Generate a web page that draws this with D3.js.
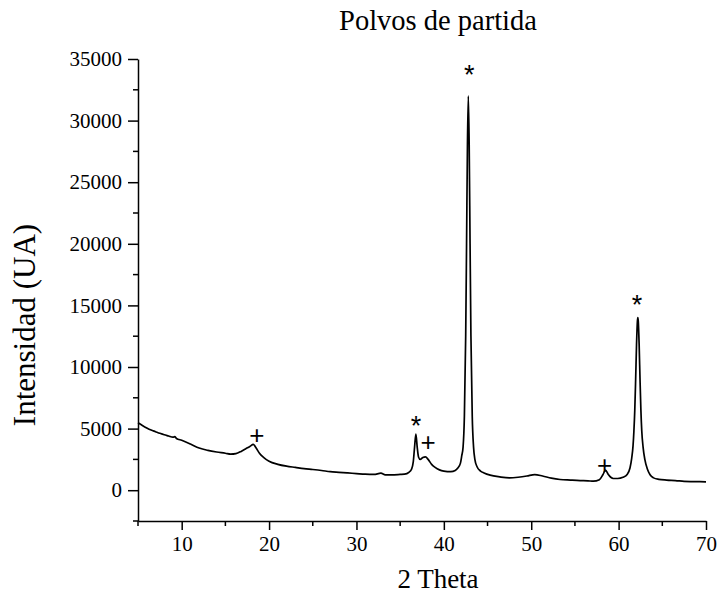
<!DOCTYPE html>
<html lang="en">
<head>
<meta charset="utf-8">
<title>Polvos de partida</title>
<script src="https://d3js.org/d3.v7.min.js"></script>
<style>
  body { margin: 0; background: #fff; }
</style>
</head>
<body>
<script>
    // values (2 theta, intensity)
    var theta = [5.0, 5.5, 6.0, 6.5, 7.0, 7.5, 8.0, 8.5, 9.0, 9.2, 9.4, 10.0, 11.0, 12.0, 13.0, 14.0, 15.0, 15.6, 16.2, 16.8, 17.3, 17.8, 18.2, 18.5, 18.9, 19.4, 20.0, 21.0, 22.0, 23.0, 24.0, 25.0, 26.0, 27.0, 28.0, 29.0, 30.0, 31.0, 32.0, 32.8, 33.3, 34.0, 35.0, 35.5, 36.0, 36.3, 36.5, 36.65, 36.8, 36.95, 37.1, 37.3, 37.6, 37.9, 38.2, 38.6, 39.0, 39.5, 40.0, 40.8, 41.3, 41.6, 41.9, 42.05, 42.2, 42.35, 42.5, 42.6, 42.7, 42.8, 42.9, 43.0, 43.1, 43.25, 43.4, 43.55, 43.8, 44.2, 44.6, 45.3, 46.4, 47.5, 48.5, 49.5, 50.4, 51.3, 52.3, 53.3, 54.5, 55.6, 56.5, 57.1, 57.8, 58.2, 58.5, 58.8, 59.1, 59.4, 59.9, 60.5, 61.0, 61.3, 61.5, 61.65, 61.75, 61.85, 61.95, 62.05, 62.15, 62.2, 62.25, 62.35, 62.45, 62.55, 62.65, 62.8, 63.0, 63.3, 63.6, 64.0, 64.6, 65.5, 66.5, 67.5, 68.5, 69.3, 70.0];
    var intensity = [5470, 5250, 5050, 4880, 4750, 4620, 4500, 4400, 4300, 4350, 4200, 4050, 3750, 3420, 3230, 3100, 3000, 2930, 2970, 3150, 3350, 3550, 3720, 3450, 3000, 2650, 2350, 2100, 1950, 1850, 1750, 1680, 1600, 1500, 1450, 1400, 1350, 1300, 1280, 1380, 1250, 1250, 1280, 1300, 1450, 1700, 2300, 3500, 4550, 3500, 2700, 2500, 2650, 2700, 2500, 2100, 1850, 1650, 1550, 1500, 1600, 1800, 2200, 2800, 3500, 6000, 12500, 20000, 28000, 32000, 28000, 20000, 12500, 6000, 3500, 2500, 1900, 1550, 1400, 1220, 1080, 1000, 1050, 1150, 1270, 1150, 980, 870, 820, 780, 760, 730, 850, 1250, 1630, 1300, 1050, 950, 950, 1050, 1300, 1800, 2600, 3600, 4800, 6500, 9000, 11800, 13700, 14000, 13700, 11800, 9000, 6500, 4800, 3500, 2500, 1700, 1250, 1000, 880, 820, 780, 720, 700, 690, 680];

    // peak markers (2 theta, intensity, symbol)
    var markTheta = [18.6, 36.8, 38.2, 42.9, 58.4, 62.1];
    var markInt = [4470, 5690, 3930, 34150, 2030, 15500];
    var markSym = ["+", "*", "+", "*", "+", "*"];

    var xMajor = [10, 20, 30, 40, 50, 60, 70];
    var xMinor = [5, 15, 25, 35, 45, 55, 65];
    var yMajor = [0, 5000, 10000, 15000, 20000, 25000, 30000, 35000];
    var yMinor = [-2500, 2500, 7500, 12500, 17500, 22500, 27500, 32500];

    var width = 717, height = 600;
    var margin = {top: 59, right: 11, bottom: 79, left: 138};
    var serif = "Liberation Serif";

    const svg = d3.select("body")
        .append("svg")
        .attr("width", width)
        .attr("height", height);

    var x = d3.scaleLinear().domain([5, 70]).range([margin.left, width - margin.right]);
    var y = d3.scaleLinear().domain([-2500, 35000]).range([height - margin.bottom, margin.top]);

    var data = theta.map((t, i) => ({t: t, v: intensity[i]}));

    svg.append("path")
        .datum(data)
        .attr("fill", "none")
        .attr("stroke", "#000")
        .attr("stroke-width", 1.7)
        .attr("stroke-linejoin", "round")
        .attr("d", d3.line().x(d => x(d.t)).y(d => y(d.v)).curve(d3.curveMonotoneX));

    // x axis
    var gx = svg.append("g").attr("transform", "translate(0," + (height - margin.bottom) + ")");
    gx.call(d3.axisBottom(x).tickValues(xMajor).tickSize(9).tickSizeOuter(0).tickPadding(6));
    gx.attr("font-family", serif).attr("font-size", 21);
    gx.call(g => g.selectAll(".minor").data(xMinor).join("line").attr("class", "minor")
        .attr("x1", d => x(d)).attr("x2", d => x(d)).attr("y1", 0).attr("y2", 5).attr("stroke", "#000").attr("stroke-width", 1.5));

    // y axis
    var gy = svg.append("g").attr("transform", "translate(" + margin.left + ",0)");
    gy.call(d3.axisLeft(y).tickValues(yMajor).tickFormat(d3.format("d")).tickSize(10).tickSizeOuter(0).tickPadding(6));
    gy.attr("font-family", serif).attr("font-size", 21);
    gy.call(g => g.selectAll(".minor").data(yMinor).join("line").attr("class", "minor")
        .attr("y1", d => y(d)).attr("y2", d => y(d)).attr("x1", 0).attr("x2", -5).attr("stroke", "#000").attr("stroke-width", 1.5));

    svg.selectAll(".domain, .tick line").attr("stroke", "#000").attr("stroke-width", 1.5);
    svg.selectAll(".tick text").attr("fill", "#000");

    // markers
    svg.append("g").selectAll("text")
        .data(markTheta)
        .join("text")
        .attr("x", (d, i) => x(d))
        .attr("y", (d, i) => y(markInt[i]))
        .attr("dy", (d, i) => markSym[i] === "*" ? 15 : 9)
        .attr("text-anchor", "middle")
        .attr("fill", "#000")
        .attr("font-family", "Liberation Sans")
        .attr("font-size", (d, i) => markSym[i] === "*" ? 27 : 26)
        .text((d, i) => markSym[i]);

    svg.append("text")
        .attr("x", 438)
        .attr("y", 30)
        .attr("text-anchor", "middle")
        .attr("font-family", serif)
        .attr("font-size", 28.5)
        .text("Polvos de partida");

    svg.append("text")
        .attr("x", 438)
        .attr("y", 588)
        .attr("text-anchor", "middle")
        .attr("font-family", serif)
        .attr("font-size", 27)
        .text("2 Theta");

    svg.append("text")
        .attr("transform", "translate(35," + 325 + ") rotate(-90)")
        .attr("text-anchor", "middle")
        .attr("font-family", serif)
        .attr("font-size", 31)
        .text("Intensidad (UA)");
</script>
</body>
</html>
